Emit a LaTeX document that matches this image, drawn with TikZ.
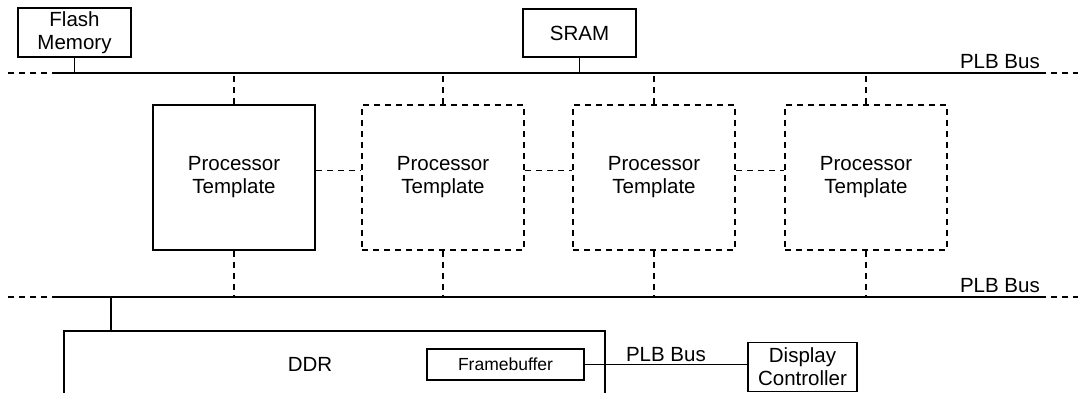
\documentclass[tikz,border=0pt]{standalone}
\usepackage{fontspec}
\setmainfont{Liberation Sans}
\usetikzlibrary{positioning,calc}

\tikzset{
  unit/.style={draw, line width=1.6pt, align=center, inner sep=0pt, font=\fontsize{20.5}{23}\selectfont},
  spare/.style={unit, dash pattern=on 6pt off 5pt},
  bus/.style={line width=2.6pt},
  busend/.style={line width=1.6pt, dash pattern=on 6pt off 5pt},
  tap/.style={line width=1.6pt, dash pattern=on 6pt off 5pt},
  wire/.style={line width=1.7pt},
  tag/.style={font=\fontsize{20.5}{23}\selectfont, inner sep=2pt}
}

\begin{document}
\begin{tikzpicture}[x=1pt,y=-1pt]
    \useasboundingbox (0,0) rectangle (1078,392);
    \clip (0,0) rectangle (1078,392);

    % Memories on the top bus
    \node[unit, minimum width=113pt, minimum height=49pt] (flash) at (74.5,32.5) {Flash\\Memory};
    \node[unit, minimum width=113pt, minimum height=48pt] (sram) at (579.5,33) {SRAM};

    % Top PLB bus
    \coordinate (topL) at (58,73);
    \coordinate (topR) at (1040,73);
    \draw[bus] (topL) -- (topR);
    \draw[busend] (topL) -- ++(-50,0);
    \draw[busend] (topR) -- ++(40,0);
    \node[tag, anchor=south east] (toptag) at (1042,71) {PLB Bus};
    \draw[wire] (flash.south) -- (flash.south |- topL);
    \draw[wire] (sram.south) -- (sram.south |- topL);

    % Bottom PLB bus
    \coordinate (botL) at (58,297);
    \coordinate (botR) at (1040,297);
    \draw[bus] (botL) -- (botR);
    \draw[busend] (botL) -- ++(-50,0);
    \draw[busend] (botR) -- ++(40,0);
    \node[tag, anchor=south east] (bottag) at (1042,295) {PLB Bus};

    % Processor templates
    \node[unit, minimum width=162pt, minimum height=145pt] (p1) at (234,177.5) {Processor\\Template};
    \node[spare, minimum width=162pt, minimum height=145pt] (p2) at (443,177.5) {Processor\\Template};
    \node[spare, minimum width=162pt, minimum height=145pt] (p3) at (654,177.5) {Processor\\Template};
    \node[spare, minimum width=162pt, minimum height=145pt] (p4) at (866,177.5) {Processor\\Template};

    \draw[tap] (p1.north) -- (p1.north |- topL);
    \draw[tap] (p2.north) -- (p2.north |- topL);
    \draw[tap] (p3.north) -- (p3.north |- topL);
    \draw[tap] (p4.north) -- (p4.north |- topL);
    \draw[tap] (p1.south) -- (p1.south |- botL);
    \draw[tap] (p2.south) -- (p2.south |- botL);
    \draw[tap] (p3.south) -- (p3.south |- botL);
    \draw[tap] (p4.south) -- (p4.south |- botL);

    \draw[tap] ([yshift=7pt]p1.east) -- ([yshift=7pt]p2.west);
    \draw[tap] ([yshift=7pt]p2.east) -- ([yshift=7pt]p3.west);
    \draw[tap] ([yshift=7pt]p3.east) -- ([yshift=7pt]p4.west);

    % DDR with framebuffer and display
    \node[unit, minimum width=541pt, minimum height=100pt, anchor=north west] (ddr) at (63,330) {};
    \node[tag] (ddrtag) at (310,364) {DDR};
    \coordinate (ddrtap) at (111,330);
    \draw[wire] (ddrtap) -- (ddrtap |- botL);

    \node[unit, line width=1.2pt, font=\fontsize{17.5}{20}\selectfont, minimum width=157pt, minimum height=31pt] (fb) at (505.5,364.5) {Framebuffer};
    \node[unit, minimum width=109pt, minimum height=49pt] (disp) at (802.5,367) {Display\\Controller};
    \draw[wire] (fb.east) -- (fb.east -| disp.west) node[tag, midway, above] {PLB Bus};
\end{tikzpicture}
\end{document}
